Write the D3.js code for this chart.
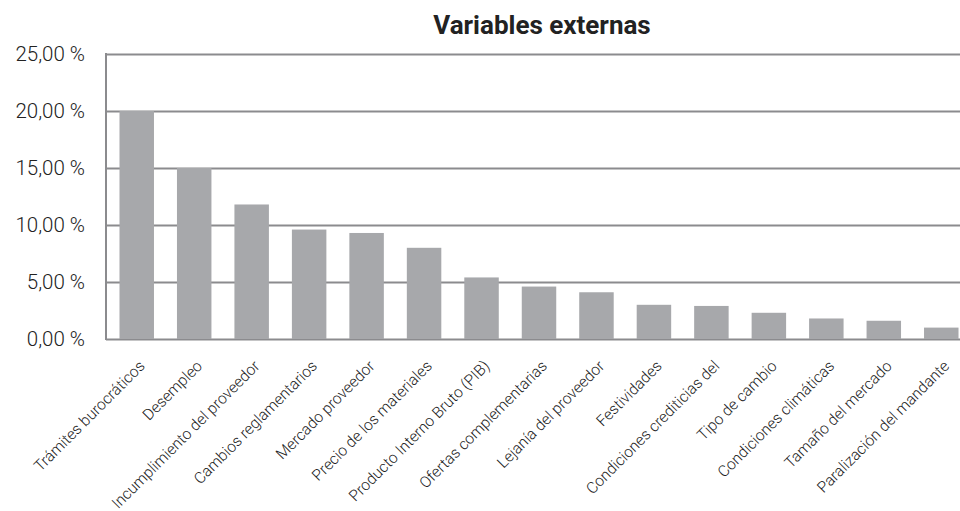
<!DOCTYPE html>
<html>
<head>
<meta charset="utf-8">
<script src="https://cdn.jsdelivr.net/npm/d3@7"></script>
<style>
  html, body { margin: 0; padding: 0; background: #ffffff; }
  svg { display: block; }
</style>
</head>
<body>
<svg id="chart" width="960" height="511"></svg>
<script>
// Categorías y porcentajes de las variables externas
const categories = [
  "Trámites burocráticos",
  "Desempleo",
  "Incumplimiento del proveedor",
  "Cambios reglamentarios",
  "Mercado proveedor",
  "Precio de los materiales",
  "Producto Interno Bruto (PIB)",
  "Ofertas complementarias",
  "Lejanía del proveedor",
  "Festividades",
  "Condiciones crediticias del",
  "Tipo de cambio",
  "Condiciones climáticas",
  "Tamaño del mercado",
  "Paralización del mandante"
];
const values = [20.0, 15.0, 11.8, 9.6, 9.3, 8.0, 5.4, 4.6, 4.1, 3.0, 2.9, 2.3, 1.8, 1.6, 1.0];
const yTicks = [0, 5, 10, 15, 20, 25];
const chartTitle = "Variables externas";

const svg = d3.select("#chart");
const plot = { left: 106, top: 54, bottom: 339, right: 970 };
const gridColor = "#8b8b8e";
const barColor = "#a7a8ab";
const font = "Roboto, 'Open Sans', sans-serif";

const x = d3.scaleBand()
  .domain(categories)
  .range([plot.left + 2, plot.right])
  .paddingInner(0.4)
  .paddingOuter(0.2);

const y = d3.scaleLinear()
  .domain([0, 25])
  .range([plot.bottom, plot.top]);

const fmt = v => d3.format(".2f")(v).replace(".", ",") + " %";

// Líneas de cuadrícula horizontales y etiquetas del eje Y
const yAxis = d3.axisLeft(y)
  .tickValues(yTicks)
  .tickSize(-(plot.right - plot.left))
  .tickFormat(fmt)
  .tickPadding(21);

const gy = svg.append("g")
  .attr("transform", `translate(${plot.left},0)`)
  .call(yAxis);
gy.select(".domain").remove();
gy.selectAll(".tick line")
  .attr("stroke", gridColor)
  .attr("stroke-width", 2);
gy.selectAll(".tick text")
  .attr("fill", "#222222")
  .style("font-family", font)
  .style("font-weight", 300)
  .style("font-size", "20.5px");

// Eje vertical izquierdo
svg.append("line")
  .attr("x1", plot.left).attr("x2", plot.left)
  .attr("y1", y(25) - 1).attr("y2", y(0) + 1)
  .attr("stroke", gridColor)
  .attr("stroke-width", 2);

// Barras
svg.append("g")
  .selectAll("rect")
  .data(categories)
  .join("rect")
  .attr("x", d => x(d))
  .attr("y", (d, i) => y(values[i]))
  .attr("width", x.bandwidth())
  .attr("height", (d, i) => y(0) - y(values[i]))
  .attr("fill", barColor);

// Etiquetas de categoría giradas
const xAxis = d3.axisBottom(x).tickSize(0).tickPadding(0);
const gx = svg.append("g")
  .attr("transform", `translate(0,${plot.bottom})`)
  .call(xAxis);
gx.select(".domain").remove();
gx.selectAll(".tick text")
  .attr("text-anchor", "end")
  .attr("fill", "#222222")
  .attr("dy", 0)
  .attr("transform", "translate(9,28) rotate(-45)")
  .style("font-family", font)
  .style("font-weight", 300)
  .style("font-size", "15.5px");

// Título
svg.append("text")
  .attr("x", 542)
  .attr("y", 34)
  .attr("text-anchor", "middle")
  .attr("fill", "#222222")
  .style("font-family", font)
  .style("font-weight", 700)
  .style("font-size", "26px")
  .text(chartTitle);
</script>
</body>
</html>
